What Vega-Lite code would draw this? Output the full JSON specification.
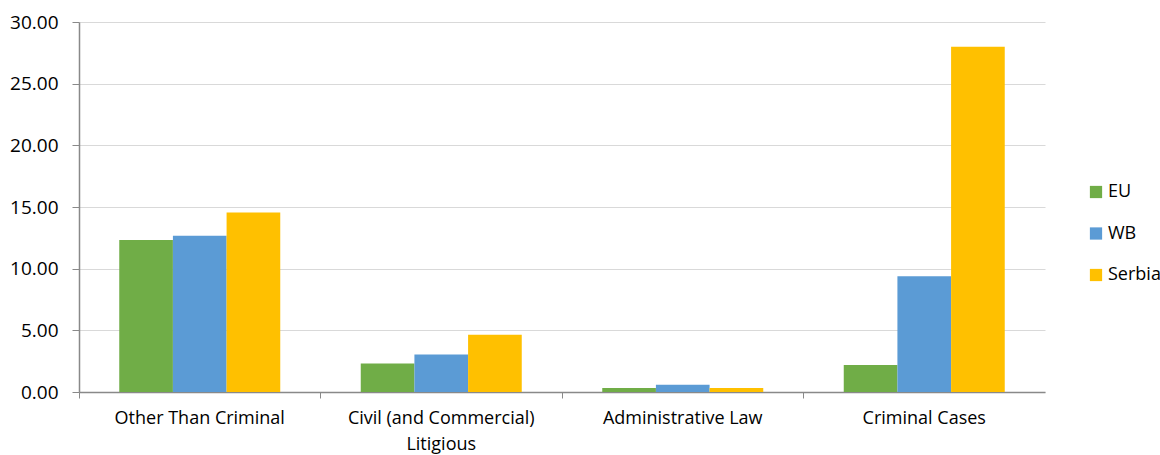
{
  "$schema": "https://vega.github.io/schema/vega-lite/v6.json",
  "width": 966,
  "height": 370,
  "autosize": "none",
  "padding": {"left": 79, "top": 22, "right": 115, "bottom": 63},
  "background": "white",
  "config": {
    "view": {"stroke": null},
    "font": "Open Sans",
    "axis": {"labelFont": "Open Sans", "labelFontSize": 18, "labelColor": "#000000"}
  },
  "data": {
    "values": [
      {"category": "Other Than Criminal", "group": "EU", "value": 12.33},
      {"category": "Other Than Criminal", "group": "WB", "value": 12.66},
      {"category": "Other Than Criminal", "group": "Serbia", "value": 14.55},
      {"category": "Civil (and Commercial) Litigious", "group": "EU", "value": 2.32},
      {"category": "Civil (and Commercial) Litigious", "group": "WB", "value": 3.05},
      {"category": "Civil (and Commercial) Litigious", "group": "Serbia", "value": 4.64},
      {"category": "Administrative Law", "group": "EU", "value": 0.32},
      {"category": "Administrative Law", "group": "WB", "value": 0.59},
      {"category": "Administrative Law", "group": "Serbia", "value": 0.32},
      {"category": "Criminal Cases", "group": "EU", "value": 2.19},
      {"category": "Criminal Cases", "group": "WB", "value": 9.39},
      {"category": "Criminal Cases", "group": "Serbia", "value": 28.0}
    ]
  },
  "mark": {"type": "bar"},
  "encoding": {
    "x": {
      "field": "category",
      "type": "nominal",
      "sort": null,
      "scale": {"paddingInner": 0, "paddingOuter": 0},
      "axis": {
        "title": null,
        "labelAngle": 0,
        "bandPosition": 0,
        "labelPadding": 11,
        "labelLimit": 300,
        "labelLineHeight": 26,
        "labelExpr": "datum.label == 'Civil (and Commercial) Litigious' ? ['Civil (and Commercial)', 'Litigious'] : datum.label",
        "domainColor": "#898989",
        "domainWidth": 1.5,
        "tickColor": "#898989",
        "tickSize": 6,
        "grid": false
      }
    },
    "xOffset": {
      "field": "group",
      "type": "nominal",
      "sort": ["EU", "WB", "Serbia"],
      "scale": {"paddingInner": 0, "paddingOuter": 0.75}
    },
    "y": {
      "field": "value",
      "type": "quantitative",
      "scale": {"domain": [0, 30], "nice": false},
      "axis": {
        "title": null,
        "values": [0, 5, 10, 15, 20, 25, 30],
        "format": ".2f",
        "labelPadding": 14,
        "labelFontSize": 19,
        "domainColor": "#898989",
        "domainWidth": 1.5,
        "tickColor": "#898989",
        "tickSize": 7,
        "gridColor": "#d9d9d9",
        "gridWidth": 1.2
      }
    },
    "color": {
      "field": "group",
      "type": "nominal",
      "sort": ["EU", "WB", "Serbia"],
      "scale": {"domain": ["EU", "WB", "Serbia"], "range": ["#70AD47", "#5B9BD5", "#FFC000"]},
      "legend": {
        "title": null,
        "orient": "none",
        "legendX": 1008,
        "legendY": 161,
        "symbolType": "square",
        "symbolSize": 150,
        "symbolStrokeWidth": 0,
        "labelFontSize": 18,
        "labelFont": "Open Sans",
        "labelColor": "#000000",
        "rowPadding": 23.5,
        "labelOffset": 3
      }
    }
  }
}
